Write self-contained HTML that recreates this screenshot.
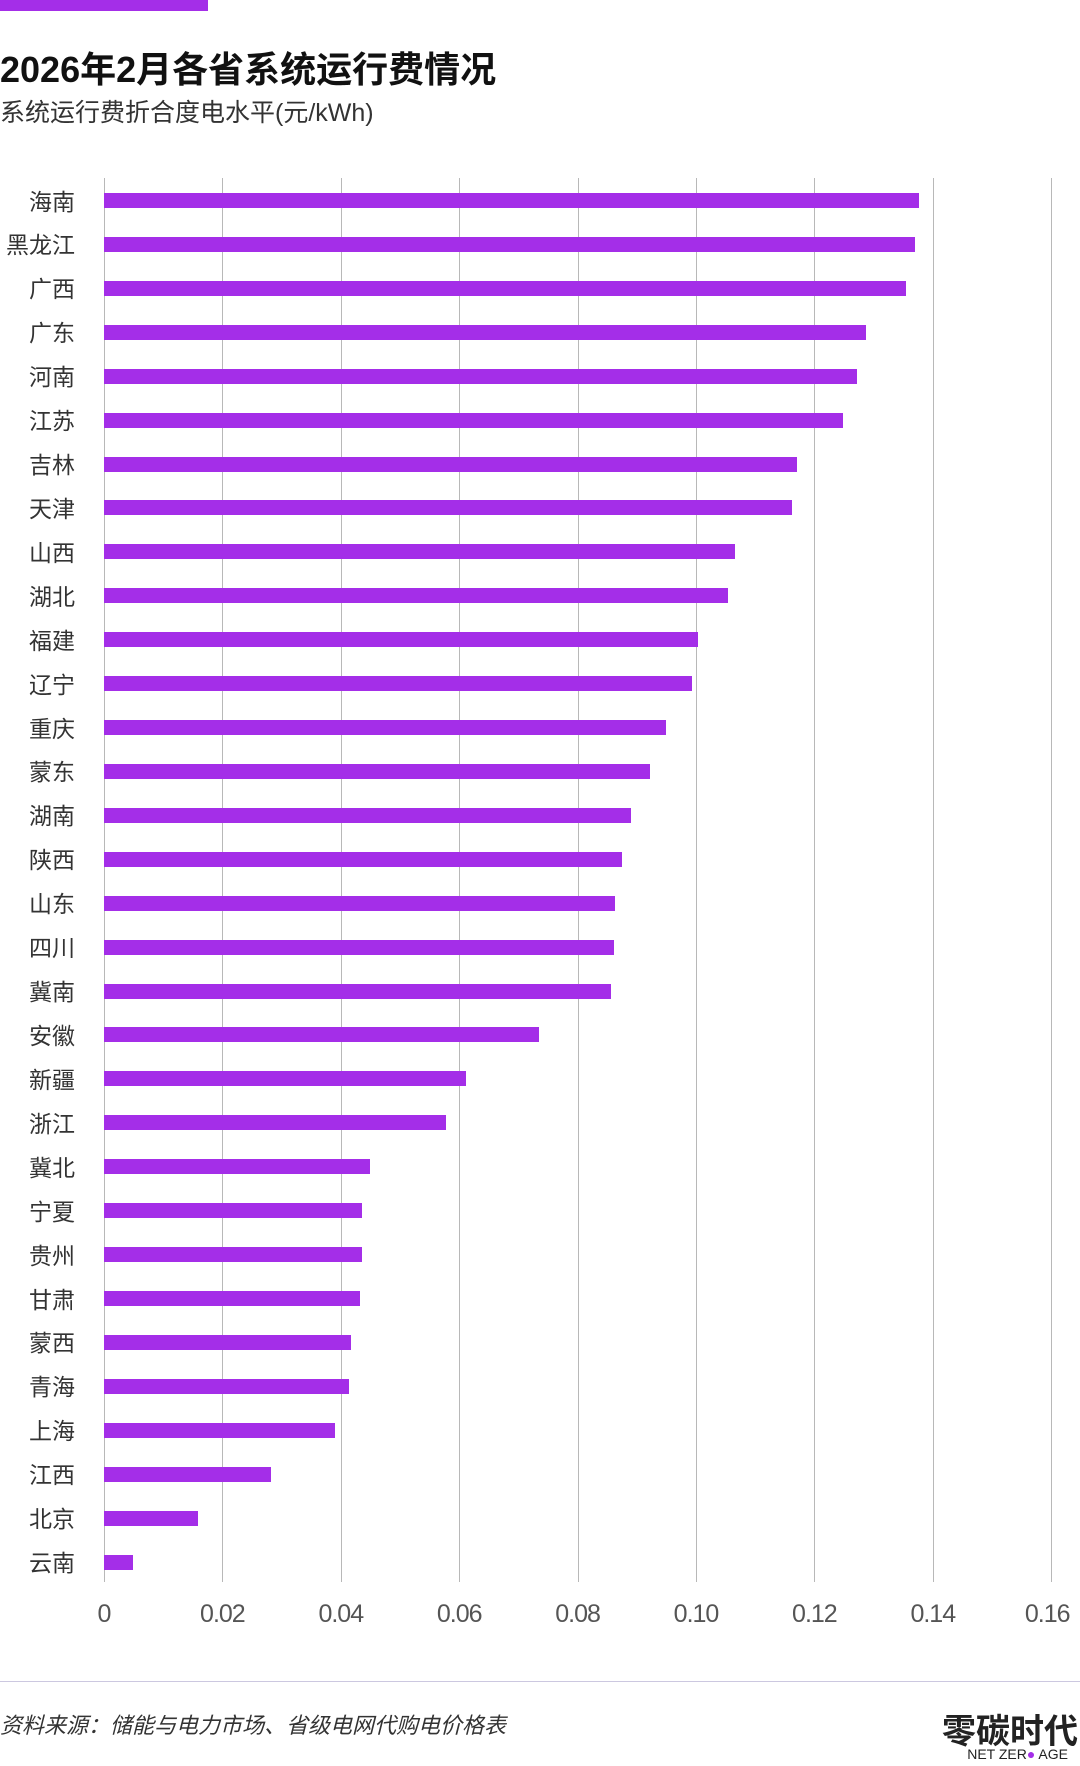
<!DOCTYPE html>
<html><head><meta charset="utf-8"><style>
body{margin:0;width:1080px;height:1766px;background:#fff;position:relative;overflow:hidden;font-family:"Liberation Sans","Noto Sans CJK SC",sans-serif;color:#222}
.a{position:absolute}
.g{position:absolute;top:178px;height:1404px;width:1px;background:#b8b8b8}
.b{position:absolute;left:104px;height:15px;background:#a42ee8}
.l{position:absolute;right:1005px;font-size:23px;line-height:30px;white-space:nowrap;color:#333}
.t{position:absolute;top:1600px;font-size:25px;color:#555;transform:translateX(-50%);letter-spacing:-1px}
</style></head><body>
<div class="a" style="left:0;top:0;width:208px;height:11px;background:#a42ee8"></div>
<div class="a" style="left:0;top:41px;font-size:36px;font-weight:bold;color:#111;letter-spacing:0px">2026年2月各省系统运行费情况</div>
<div class="a" style="left:0;top:93px;font-size:25px;color:#333">系统运行费折合度电水平(元/kWh)</div>
<div id="c"></div>
<div class="a" style="left:0;top:1681px;width:1080px;height:1px;background:#ccc8e0"></div>
<div class="a" style="left:0;top:1708px;font-size:22px;color:#333;font-style:italic">资料来源：储能与电力市场、省级电网代购电价格表</div>
<div class="a" style="right:2px;top:1704px;font-size:34px;font-weight:bold;color:#222">零碳时代</div>
<div class="a" style="right:12px;top:1746px;font-size:14px;color:#222">NET ZER<span style="color:#a42ee8">●</span> AGE</div>
<script>
var n=["海南","黑龙江","广西","广东","河南","江苏","吉林","天津","山西","湖北","福建","辽宁","重庆","蒙东","湖南","陕西","山东","四川","冀南","安徽","新疆","浙江","冀北","宁夏","贵州","甘肃","蒙西","青海","上海","江西","北京","云南"];
var e=[919,915,906,866,857,843,797,792,735,728,698,692,666,650,631,622,615,614,611,539,466,446,370,362,362,360,351,349,335,271,198,133];
var h="";
for(var i=0;i<=8;i++){var x=104+i*118.4;h+='<div class="g" style="left:'+Math.round(x)+'px"></div>';h+='<div class="t" style="left:'+(x+(i==8?-4:0))+'px">'+(i==0?'0':(i*0.02).toFixed(2))+'</div>';}
for(var i=0;i<32;i++){var y=200.5+i*43.92;h+='<div class="b" style="top:'+Math.round(y-7.5)+'px;width:'+(e[i]-104)+'px"></div><div class="l" style="top:'+Math.round(y-14)+'px">'+n[i]+'</div>';}
document.getElementById("c").innerHTML=h;
</script>
</body></html>
